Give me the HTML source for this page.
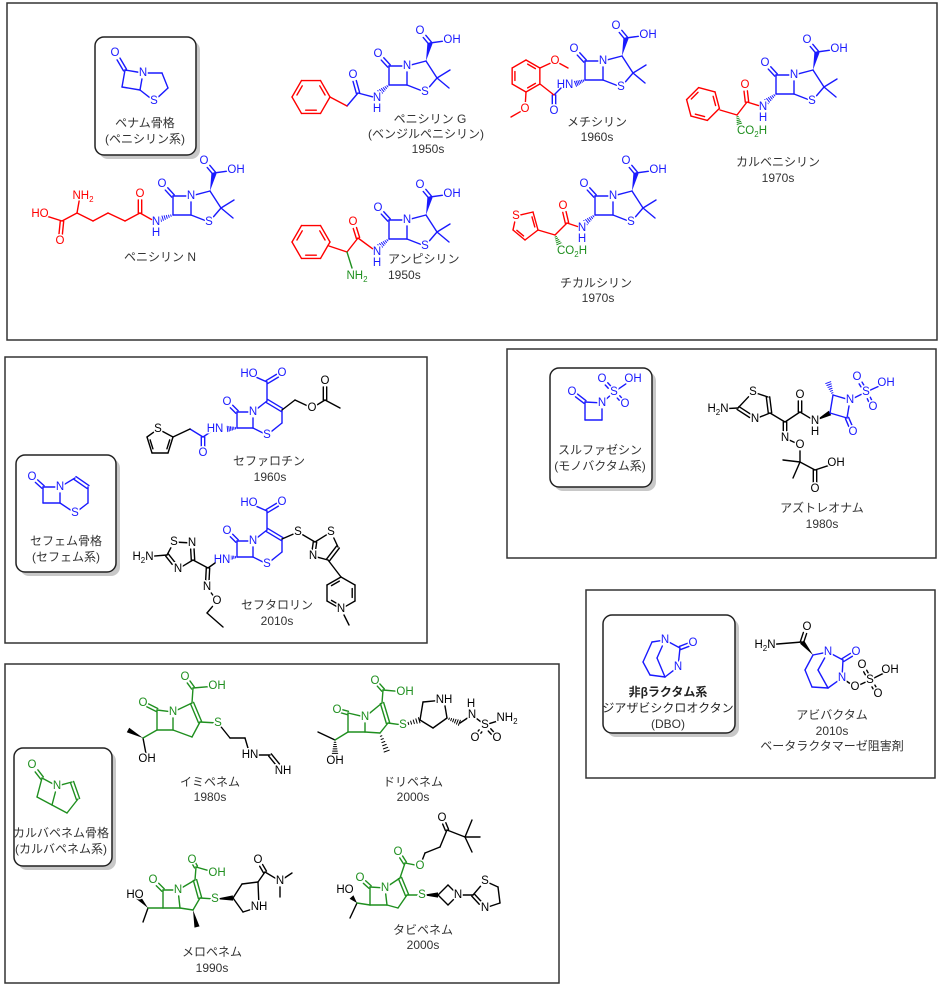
<!DOCTYPE html>
<html><head><meta charset="utf-8"><style>
html,body{margin:0;padding:0;background:#fff}
svg{display:block}
text{font-family:"Liberation Sans","Noto Sans CJK JP",sans-serif}
.a{font-size:11.5px;text-anchor:middle;dominant-baseline:central;paint-order:stroke;stroke:#fff;stroke-width:3px;stroke-linejoin:round}
.l{font-size:12px;fill:#333;text-anchor:middle;dominant-baseline:central}
.b{fill:#1a1aff}.r{fill:#f00}.g{fill:#1f8f1f}.k{fill:#000}
.a.ph{fill:none;stroke:none}
</style></head><body>
<svg id="s" width="940" height="987" viewBox="0 0 940 987" xmlns="http://www.w3.org/2000/svg">
<g fill="none" stroke="#333" stroke-width="1.5">
<rect x="7" y="3" width="930" height="337"/>
<rect x="5" y="357" width="422" height="286"/>
<rect x="507" y="349" width="429" height="209"/>
<rect x="586" y="590" width="349" height="188"/>
<rect x="5" y="664" width="554" height="319"/>
</g>
<g fill="#c8c8c8">
<rect x="99" y="41" width="101" height="118" rx="9"/>
<rect x="20" y="459" width="100" height="117" rx="9"/>
<rect x="554" y="372" width="102" height="119" rx="9"/>
<rect x="607" y="619" width="132" height="118" rx="9"/>
<rect x="18" y="752" width="98" height="118" rx="9"/>
</g>
<g fill="#fff" stroke="#222" stroke-width="1.5">
<rect x="95" y="37" width="101" height="118" rx="9"/>
<rect x="16" y="455" width="100" height="117" rx="9"/>
<rect x="550" y="368" width="102" height="119" rx="9"/>
<rect x="603" y="615" width="132" height="118" rx="9"/>
<rect x="14" y="748" width="98" height="118" rx="9"/>
</g>

<g id="penam" class="b"><text class="a" x="115" y="53">O</text><text class="a" x="143" y="73">N</text><text class="a" x="154" y="101">S</text></g>
<text class="l" x="145" y="123">ペナム骨格</text><text class="l" x="145" y="139">(ペニシリン系)</text>

<g id="pG" class="b" transform="translate(389,85)"><text class="a" x="-11" y="-31">O</text><text class="a" x="18" y="-19">N</text><text class="a" x="36" y="7">S</text><text class="a" x="31" y="-54">O</text><text class="a" x="63" y="-45">OH</text><text class="a" x="-12" y="13">N</text><text class="a" x="-12" y="24">H</text></g>
<g id="pGs" class="b"><text class="a" x="353" y="75">O</text><text class="a ph" x="377" y="98">N</text></g>
<g id="pGr" class="r"></g>
<text class="l" x="430" y="119">ペニシリン G</text><text class="l" x="426" y="134">(ベンジルペニシリン)</text><text class="l" x="428" y="149">1950s</text>

<g id="pN" class="b" transform="translate(173,215)"><text class="a" x="-11" y="-31">O</text><text class="a" x="18" y="-19">N</text><text class="a" x="36" y="7">S</text><text class="a" x="31" y="-54">O</text><text class="a" x="63" y="-45">OH</text><text class="a" x="-17" y="7">N</text><text class="a" x="-17" y="18">H</text></g>
<g id="pNr" class="r"><text class="a" x="140" y="194">O</text><text class="a" x="83" y="196">NH<tspan font-size="8" dy="3">2</tspan></text><text class="a" x="60" y="241">O</text><text class="a" x="40" y="214">HO</text><text class="a ph" x="156" y="222">N</text></g>
<text class="l" x="160" y="257">ペニシリン N</text>

<g id="pA" class="b" transform="translate(389,239)"><text class="a" x="-11" y="-31">O</text><text class="a" x="18" y="-19">N</text><text class="a" x="36" y="7">S</text><text class="a" x="31" y="-54">O</text><text class="a" x="63" y="-45">OH</text><text class="a" x="-12" y="13">N</text><text class="a" x="-12" y="24">H</text></g>
<g id="pAr" class="r"><text class="a" x="353" y="222">O</text><text class="a ph" x="377" y="252">N</text></g>
<g id="pAg" class="g"><text class="a" x="357" y="276">NH<tspan font-size="8" dy="3">2</tspan></text></g>
<text class="l" x="388" y="259" style="text-anchor:start">アンピシリン</text><text class="l" x="388" y="275" style="text-anchor:start">1950s</text>

<g id="pM" class="b" transform="translate(585,80)"><text class="a" x="-11" y="-31">O</text><text class="a" x="18" y="-19">N</text><text class="a" x="36" y="7">S</text><text class="a" x="31" y="-54">O</text><text class="a" x="63" y="-45">OH</text><text class="a" x="-20" y="5">HN</text></g>
<g id="pMb" class="b"><text class="a" x="554" y="111">O</text></g>
<g id="pMr" class="r"><text class="a" x="555" y="61">O</text><text class="a" x="525" y="109">O</text></g>
<text class="l" x="597" y="122">メチシリン</text><text class="l" x="597" y="137">1960s</text>

<g id="pC" class="b" transform="translate(776,94)"><text class="a" x="-11" y="-31">O</text><text class="a" x="18" y="-19">N</text><text class="a" x="36" y="7">S</text><text class="a" x="31" y="-54">O</text><text class="a" x="63" y="-45">OH</text><text class="a" x="-13" y="13">N</text><text class="a" x="-13" y="24">H</text></g>
<g id="pCr" class="r"><text class="a" x="745" y="85">O</text><text class="a ph" x="763" y="107">N</text></g>
<g id="pCg" class="g"><text class="a" x="752" y="131">CO<tspan font-size="8" dy="3">2</tspan><tspan dy="-3">H</tspan></text></g>
<text class="l" x="778" y="162">カルベニシリン</text><text class="l" x="778" y="178">1970s</text>

<g id="pT" class="b" transform="translate(595,215)"><text class="a" x="-11" y="-31">O</text><text class="a" x="18" y="-19">N</text><text class="a" x="36" y="7">S</text><text class="a" x="31" y="-54">O</text><text class="a" x="63" y="-45">OH</text><text class="a" x="-13" y="13">N</text><text class="a" x="-13" y="24">H</text></g>
<g id="pTr" class="r"><text class="a" x="563" y="206">O</text><text class="a" x="516" y="216">S</text><text class="a ph" x="582" y="228">N</text></g>
<g id="pTg" class="g"><text class="a" x="572" y="251">CO<tspan font-size="8" dy="3">2</tspan><tspan dy="-3">H</tspan></text></g>
<text class="l" x="596" y="283">チカルシリン</text><text class="l" x="598" y="298">1970s</text>

<g id="cepS" class="b"><text class="a" x="32" y="477">O</text><text class="a" x="60" y="487">N</text><text class="a" x="75" y="513">S</text></g>
<text class="l" x="66" y="541">セフェム骨格</text><text class="l" x="66" y="557">(セフェム系)</text>

<g id="c1" class="b" transform="translate(237,428)"><text class="a" x="-10" y="-26">O</text><text class="a" x="16" y="-16">N</text><text class="a" x="30" y="7">S</text><text class="a" x="45" y="-55">O</text><text class="a" x="12" y="-54">HO</text><text class="a" x="-22" y="1">HN</text><text class="a" x="-34" y="25">O</text></g>
<g id="c1k" class="k"><text class="a" x="312" y="408">O</text><text class="a" x="325" y="381">O</text><text class="a" x="158" y="429">S</text></g>
<text class="l" x="269" y="461">セファロチン</text><text class="l" x="270" y="477">1960s</text>

<g id="c2" class="b" transform="translate(237,557)"><text class="a" x="-10" y="-26">O</text><text class="a" x="16" y="-16">N</text><text class="a" x="30" y="7">S</text><text class="a" x="45" y="-55">O</text><text class="a" x="12" y="-54">HO</text><text class="a" x="-15" y="3">HN</text></g>
<g id="c2k" class="k"><text class="a" x="298" y="532">S</text><text class="a" x="331" y="532">S</text><text class="a" x="313" y="556">N</text><text class="a" x="341" y="609">N</text><text class="a" x="207" y="587">N</text><text class="a" x="217" y="601">O</text><text class="a" x="192" y="543">N</text><text class="a" x="174" y="542">S</text><text class="a" x="178" y="569">N</text><text class="a" x="143" y="557">H<tspan font-size="8" dy="3">2</tspan><tspan dy="-3">N</tspan></text></g>
<text class="l" x="277" y="605">セフタロリン</text><text class="l" x="277" y="621">2010s</text>

<g id="sz" class="b"><text class="a" x="572" y="392">O</text><text class="a" x="602" y="403">N</text><text class="a" x="614" y="392">S</text><text class="a" x="602" y="379">O</text><text class="a" x="633" y="379">OH</text><text class="a" x="625" y="404">O</text></g>
<text class="l" x="600" y="450">スルファゼシン</text><text class="l" x="600" y="466">(モノバクタム系)</text>

<g id="azk" class="k"><text class="a" x="718" y="409">H<tspan font-size="8" dy="3">2</tspan><tspan dy="-3">N</tspan></text><text class="a" x="753" y="392">S</text><text class="a" x="755" y="419">N</text><text class="a" x="785" y="438">N</text><text class="a" x="800" y="445">O</text><text class="a" x="836" y="463">OH</text><text class="a" x="815" y="489">O</text><text class="a" x="800" y="395">O</text><text class="a" x="815" y="421">N</text><text class="a" x="815" y="432">H</text></g>
<g id="azb" class="b"><text class="a" x="850" y="400">N</text><text class="a" x="853" y="432">O</text><text class="a" x="866" y="392">S</text><text class="a" x="857" y="377">O</text><text class="a" x="886" y="383">OH</text><text class="a" x="873" y="407">O</text></g>
<text class="l" x="822" y="508">アズトレオナム</text><text class="l" x="822" y="524">1980s</text>

<g id="dbo" class="b"><text class="a" x="665" y="640">N</text><text class="a" x="693" y="643">O</text><text class="a" x="678" y="667">N</text></g>
<text class="l" x="668" y="692" style="font-weight:bold;fill:#222">非βラクタム系</text><text class="l" x="668" y="708" style="fill:#222">ジアザビシクロオクタン</text><text class="l" x="668" y="724">(DBO)</text>

<g id="avk" class="k"><text class="a" x="765" y="645">H<tspan font-size="8" dy="3">2</tspan><tspan dy="-3">N</tspan></text><text class="a" x="807" y="627">O</text><text class="a" x="855" y="687">O</text><text class="a" x="870" y="680">S</text><text class="a" x="862" y="665">O</text><text class="a" x="890" y="670">OH</text><text class="a" x="878" y="694">O</text></g>
<g id="avb" class="b"><text class="a" x="828" y="652">N</text><text class="a" x="856" y="652">O</text><text class="a" x="842" y="678">N</text></g>
<text class="l" x="832" y="715">アビバクタム</text><text class="l" x="832" y="731">2010s</text><text class="l" x="832" y="746">ベータラクタマーゼ阻害剤</text>

<g id="cpS" class="g"><text class="a" x="32" y="765">O</text><text class="a" x="57" y="786">N</text></g>
<text class="l" x="61" y="833">カルバペネム骨格</text><text class="l" x="61" y="849">(カルバペネム系)</text>

<g id="imk" class="k"><text class="a" x="147" y="759">OH</text><text class="a" x="250" y="755">HN</text><text class="a" x="283" y="771">NH</text></g>
<g id="img" class="g"><text class="a" x="143" y="703">O</text><text class="a" x="173" y="712">N</text><text class="a" x="185" y="677">O</text><text class="a" x="217" y="686">OH</text><text class="a" x="218" y="723">S</text></g>
<text class="l" x="210" y="782">イミペネム</text><text class="l" x="210" y="797">1980s</text>

<g id="dok" class="k"><text class="a" x="335" y="761">OH</text><text class="a" x="444" y="700">NH</text><text class="a" x="471" y="704">H</text><text class="a" x="472" y="715">N</text><text class="a" x="485" y="725">S</text><text class="a" x="507" y="718">NH<tspan font-size="8" dy="3">2</tspan></text><text class="a" x="475" y="738">O</text><text class="a" x="497" y="738">O</text><text class="a ph" x="403" y="725">S</text></g>
<g id="dog" class="g"><text class="a" x="337" y="710">O</text><text class="a" x="365" y="717">N</text><text class="a" x="375" y="681">O</text><text class="a" x="405" y="692">OH</text><text class="a" x="403" y="725">S</text></g>
<text class="l" x="413" y="782">ドリペネム</text><text class="l" x="413" y="797">2000s</text>

<g id="mek" class="k"><text class="a" x="135" y="895">HO</text><text class="a" x="259" y="907">NH</text><text class="a" x="258" y="860">O</text><text class="a" x="280" y="881">N</text><text class="a ph" x="215" y="899">S</text></g>
<g id="meg" class="g"><text class="a" x="153" y="880">O</text><text class="a" x="178" y="890">N</text><text class="a" x="192" y="860">O</text><text class="a" x="217" y="873">OH</text><text class="a" x="215" y="899">S</text></g>
<text class="l" x="212" y="952">メロペネム</text><text class="l" x="212" y="968">1990s</text>

<g id="tek" class="k"><text class="a" x="345" y="890">HO</text><text class="a" x="442" y="818">O</text><text class="a" x="458" y="895">N</text><text class="a" x="485" y="881">S</text><text class="a" x="485" y="908">N</text><text class="a ph" x="420" y="866">O</text><text class="a ph" x="422" y="895">S</text></g>
<g id="teg" class="g"><text class="a" x="360" y="878">O</text><text class="a" x="385" y="888">N</text><text class="a" x="398" y="852">O</text><text class="a" x="420" y="866">O</text><text class="a" x="422" y="895">S</text></g>
<text class="l" x="423" y="930">タビペネム</text><text class="l" x="423" y="945">2000s</text>
</svg>
<script>
const NS='http://www.w3.org/2000/svg';
const COL={b:'#1a1aff',r:'#ff0000',g:'#1f8f1f',k:'#000'};
function mk(g,n,a){const e=document.createElementNS(NS,n);for(const k in a)e.setAttribute(k,a[k]);g.insertBefore(e,g.firstChild);return e;}
function ln(g,c,x1,y1,x2,y2,w){mk(g,'line',{x1,y1,x2,y2,stroke:c,'stroke-width':w||1.4,'stroke-linecap':'round'});}
function labels(g){return [...g.querySelectorAll('text')].map(t=>({x:+t.getAttribute('x'),y:+t.getAttribute('y'),hw:Math.max(4.5,t.textContent.length*3.6),hh:6}));}
function trimPt(L,px,py,qx,qy){
 for(const l of L){if(Math.abs(l.x-px)<3&&Math.abs(l.y-py)<3){
  const dx=qx-px,dy=qy-py;let t=1e9;
  if(dx)t=Math.min(t,l.hw/Math.abs(dx));if(dy)t=Math.min(t,l.hh/Math.abs(dy));
  t=Math.min(t,0.45);return [px+dx*t,py+dy*t];}}
 return [px,py];}
function B(id,list,col){const g=document.getElementById(id);const c=COL[col||g.getAttribute('class')];const L=labels(g);
 for(const b of list){let[x1,y1,x2,y2,t]=b;
  if(t!='w'&&t!='h'){const p=trimPt(L,x1,y1,x2,y2),q=trimPt(L,x2,y2,x1,y1);[x1,y1]=p;[x2,y2]=q;}
  else{const q=trimPt(L,x2,y2,x1,y1);[x2,y2]=q;}
  const dx=x2-x1,dy=y2-y1,l=Math.hypot(dx,dy),nx=-dy/l,ny=dx/l;
  if(t=='d'){ln(g,c,x1+nx*1.7,y1+ny*1.7,x2+nx*1.7,y2+ny*1.7);ln(g,c,x1-nx*1.7,y1-ny*1.7,x2-nx*1.7,y2-ny*1.7);}
  else if(t=='w'){mk(g,'polygon',{points:`${x1},${y1} ${x2+nx*2.6},${y2+ny*2.6} ${x2-nx*2.6},${y2-ny*2.6}`,fill:c});}
  else if(t=='h'){for(let i=1;i<=6;i++){const f=i/6.3,cx=x1+dx*f,cy=y1+dy*f,w=0.4+2.4*f;ln(g,c,cx+nx*w,cy+ny*w,cx-nx*w,cy-ny*w,1);}}
  else ln(g,c,x1,y1,x2,y2);}}
function R(id,pts,dbl,col){const g=document.getElementById(id);const c=COL[col||g.getAttribute('class')];const L=labels(g);
 let cx=0,cy=0;pts.forEach(p=>{cx+=p[0];cy+=p[1]});cx/=pts.length;cy/=pts.length;
 const n=pts.length;for(let i=0;i<n;i++){const a=pts[i],b=pts[(i+1)%n];
  const p=trimPt(L,a[0],a[1],b[0],b[1]),q=trimPt(L,b[0],b[1],a[0],a[1]);ln(g,c,p[0],p[1],q[0],q[1]);
  if(dbl.includes(i)){const ia=[a[0]+(cx-a[0])*.2,a[1]+(cy-a[1])*.2],ib=[b[0]+(cx-b[0])*.2,b[1]+(cy-b[1])*.2];
   const s=.15;ln(g,c,ia[0]+(ib[0]-ia[0])*s,ia[1]+(ib[1]-ia[1])*s,ib[0]-(ib[0]-ia[0])*s,ib[1]-(ib[1]-ia[1])*s);}}}
function hex(cx,cy,r,rot){const p=[];for(let i=0;i<6;i++){const a=(rot+60*i)*Math.PI/180;p.push([cx+r*Math.cos(a),cy+r*Math.sin(a)]);}return p;}
const PEN=[[0,0,0,-19],[0,-19,18,-19],[18,-19,18,0],[18,0,0,0],[0,-19,-11,-31,'d'],[18,-19,37,-24],[37,-24,48,-7],[48,-7,36,7],[36,7,18,0],[48,-7,61,-15],[48,-7,60,3],[37,-24,41,-42,'w'],[41,-42,31,-54,'d'],[41,-42,63,-45]];
B('pG',PEN.concat([[0,0,-10,8,'h']]));
B('pN',PEN.concat([[0,0,-13,4,'h']]));
B('pA',PEN.concat([[0,0,-10,8,'h']]));
B('pC',PEN.concat([[0,0,-10,8,'h']]));
B('pT',PEN.concat([[0,0,-10,8,'h']]));
B('pM',PEN.concat([[0,0,-10,4,'h']]));
B('penam',[[125,70,115,53,'d'],[125,70,143,73],[143,73,140,90],[140,90,122,87],[122,87,125,70],[143,73,162,73],[162,73,168,88],[168,88,154,101],[154,101,140,90]]);
B('pGs',[[377,98,358,93],[358,93,353,75,'d'],[358,93,347,106]]);
B('pGr',[[347,106,330,97]]);R('pGr',hex(311,97,19,0),[1,3,5]);
B('pNr',[[156,222,140,213],[140,213,140,194,'d'],[140,213,125,221],[125,221,108,213],[108,213,93,221],[93,221,77,213],[77,213,80,196],[77,213,62,221],[62,221,60,241,'d'],[62,221,40,214]]);
B('pAr',[[377,252,358,238],[358,238,353,222,'d'],[358,238,347,252],[347,252,329,246]]);R('pAr',hex(311,242,19,0),[1,3,5]);
B('pAg',[[347,252,352,268]]);
const mh=hex(526,76,16,-90);
B('pMb',[[554,95,561,88],[554,95,554,111,'d']]);
B('pMr',[[540,84,554,95],[540,68,555,61],[555,61,568,68],[526,92,525,109],[525,109,511,117]]);R('pMr',mh,[0,2,4]);
B('pCr',[[763,107,747,102],[747,102,745,85,'d'],[747,102,737,115],[737,115,720,110]]);R('pCr',hex(703,104,17,15),[1,3,5]);
B('pCg',[[737,115,740,126,'h']]);
B('pTr',[[582,228,567,223],[567,223,563,206,'d'],[567,223,555,235],[555,235,538,230]]);R('pTr',[[516,216],[533,212],[538,230],[525,240],[513,230]],[1,3]);
B('pTg',[[555,235,560,246,'h']]);
B('cepS',[[43,487,32,477,'d'],[43,487,60,487],[60,487,75,478],[75,478,88,487,'d'],[88,487,88,503],[88,503,75,513],[75,513,60,503],[60,503,60,487],[60,503,43,503],[43,503,43,487]]);
const CEP=[[0,0,0,-16],[0,-16,16,-16],[16,-16,16,0],[16,0,0,0],[0,-16,-10,-26,'d'],[16,-16,30,-27],[30,-27,45,-18,'d'],[45,-18,45,-5],[45,-5,30,7],[30,7,16,0],[30,-27,30,-46],[30,-46,45,-55,'d'],[30,-46,12,-54],[0,0,-10,1,'h']];
B('c1',CEP.concat([[-34,9,-22,1],[-34,9,-34,25,'d'],[-34,9,-47,1]]));
B('c2',CEP);
B('c1k',[[282,410,295,400],[295,400,312,408],[312,408,325,400],[325,400,325,381,'d'],[325,400,340,408],[190,429,173,437]]);
R('c1k',[[173,437],[158,429],[147,437],[152,453],[168,453]],[2,4]);
B('c2k',[[282,539,298,532],[298,532,315,542],[315,542,331,532],[331,532,338,547],[338,547,328,560,'d'],[328,560,313,556],[313,556,315,542,'d'],[328,560,341,577],[341,609,349,625],
[215,563,208,568],[208,568,207,587,'d'],[207,587,217,601],[217,601,207,613],[207,613,223,627],[208,568,193,560],[193,560,192,543,'d'],[192,543,174,542],[174,542,167,555],[167,555,178,569,'d'],[178,569,193,560],[167,555,143,557]]);
R('c2k',[[341,577],[355,585],[355,601],[341,609],[327,601],[327,585]],[1,3,5]);
B('sz',[[585,402,572,392,'d'],[585,402,602,403],[602,403,602,420],[602,420,585,420],[585,420,585,402],[602,403,614,392],[614,392,602,379,'d'],[614,392,625,404,'d'],[614,392,633,379]]);
B('azk',[[718,409,738,408],[738,408,753,392],[753,392,768,397],[768,397,770,413,'d'],[770,413,755,419],[755,419,738,408,'d'],[770,413,785,422],[785,422,785,438,'d'],[785,438,800,445],[800,445,800,462],[800,462,783,460],[800,462,793,478],[800,462,815,470],[815,470,836,463],[815,470,815,489,'d'],[785,422,800,412],[800,412,800,395,'d'],[800,412,815,421],[815,421,830,413,'w']]);
B('azb',[[830,413,833,395],[833,395,850,400],[850,400,847,418],[847,418,830,413],[847,418,853,432,'d'],[833,395,828,382,'h'],[850,400,866,392],[866,392,857,377,'d'],[866,392,873,407,'d'],[866,392,886,383]]);
B('dbo',[[665,640,680,648],[680,648,693,643,'d'],[680,648,678,667],[678,667,665,677],[665,640,652,642],[652,642,643,662],[643,662,650,675],[650,675,665,677],[665,677,657,658],[657,658,665,640]]);
B('avk',[[765,645,802,642],[802,642,807,627,'d'],[813,655,802,642,'w'],[842,678,855,687],[855,687,870,680],[870,680,862,665,'d'],[870,680,878,694,'d'],[870,680,890,670]]);
B('avb',[[813,655,828,652],[828,652,843,660],[843,660,856,652,'d'],[843,660,842,678],[842,678,828,688],[828,688,812,687],[812,687,805,670],[805,670,813,655],[828,688,818,670],[818,670,828,652]]);
B('cpS',[[42,778,32,765,'d'],[42,778,57,786],[57,786,72,782],[72,782,78,799,'d'],[78,799,67,813],[67,813,52,805],[52,805,57,786],[52,805,37,797],[37,797,42,778]]);
const core=(o)=>[[o.c8[0],o.c8[1],o.O[0],o.O[1],'d'],[...o.c8,...o.N],[...o.N,...o.c5],[...o.c5,...o.c6],[...o.c6,...o.c8],[...o.N,...o.c2],[...o.c2,...o.c3,'d'],[...o.c3,...o.c4],[...o.c4,...o.c5],[...o.c2,...o.cc],[...o.cc,...o.O2,'d'],[...o.cc,...o.OH],[...o.c3,...o.S]];
B('img',core({O:[143,703],c8:[157,710],N:[173,712],c5:[173,730],c6:[157,730],c2:[192,703],c3:[200,722],c4:[192,737],cc:[193,688],O2:[185,677],OH:[217,686],S:[218,723]}).concat([[157,730,143,738]]));
B('imk',[[143,738,128,730,'w'],[143,738,147,759],[218,723,230,738],[230,738,245,738],[245,738,250,755],[250,755,270,755],[270,755,283,771,'d']]);
B('dog',core({O:[337,710],c8:[348,713],N:[365,717],c5:[365,732],c6:[348,732],c2:[382,703],c3:[388,723],c4:[380,733],cc:[383,690],O2:[375,681],OH:[405,692],S:[403,725]}).concat([[348,732,335,740]]));
B('dok',[[335,740,318,732],[335,740,335,754,'h'],[380,733,387,752,'h'],[403,725,420,720,'h'],[420,720,423,702],[423,702,444,700],[444,700,447,718],[447,718,433,728],[433,728,420,720],[447,718,460,723,'h'],[460,723,472,715],[472,715,485,725],[485,725,507,718],[485,725,475,738,'d'],[485,725,497,738,'d']]);
B('meg',core({O:[153,880],c8:[163,890],N:[178,890],c5:[180,908],c6:[163,908],c2:[195,880],c3:[200,898],c4:[193,910],cc:[196,867],O2:[192,860],OH:[217,873],S:[215,899]}).concat([[163,908,148,908]]));
B('mek',[[148,908,138,897,'w'],[148,908,143,922],[193,910,197,927,'w'],[215,899,233,898,'w'],[233,898,242,884],[242,884,258,882],[258,882,259,907],[259,907,243,912],[243,912,233,898],[258,882,265,872],[265,872,258,860,'d'],[265,872,280,881],[280,881,292,873],[280,881,280,897]]);
B('teg',core({O:[360,878],c8:[370,887],N:[385,888],c5:[387,905],c6:[370,905],c2:[400,878],c3:[407,895],c4:[398,908],cc:[405,863],O2:[398,852],OH:[420,866],S:[422,895]}).concat([[370,905,357,903]]));
B('tek',[[357,903,347,892,'w'],[357,903,350,918],[420,866,425,853],[425,853,440,847],[440,847,447,830],[447,830,442,818,'d'],[447,830,465,837],[465,837,480,837],[465,837,472,820],[465,837,472,852],[422,895,438,895,'w'],[438,895,448,885],[448,885,458,895],[458,895,448,905],[448,905,438,895],[458,895,473,895],[473,895,485,881],[485,881,498,887],[498,887,500,903],[500,903,485,908],[485,908,473,895,'d']]);
</script>
</body></html>
